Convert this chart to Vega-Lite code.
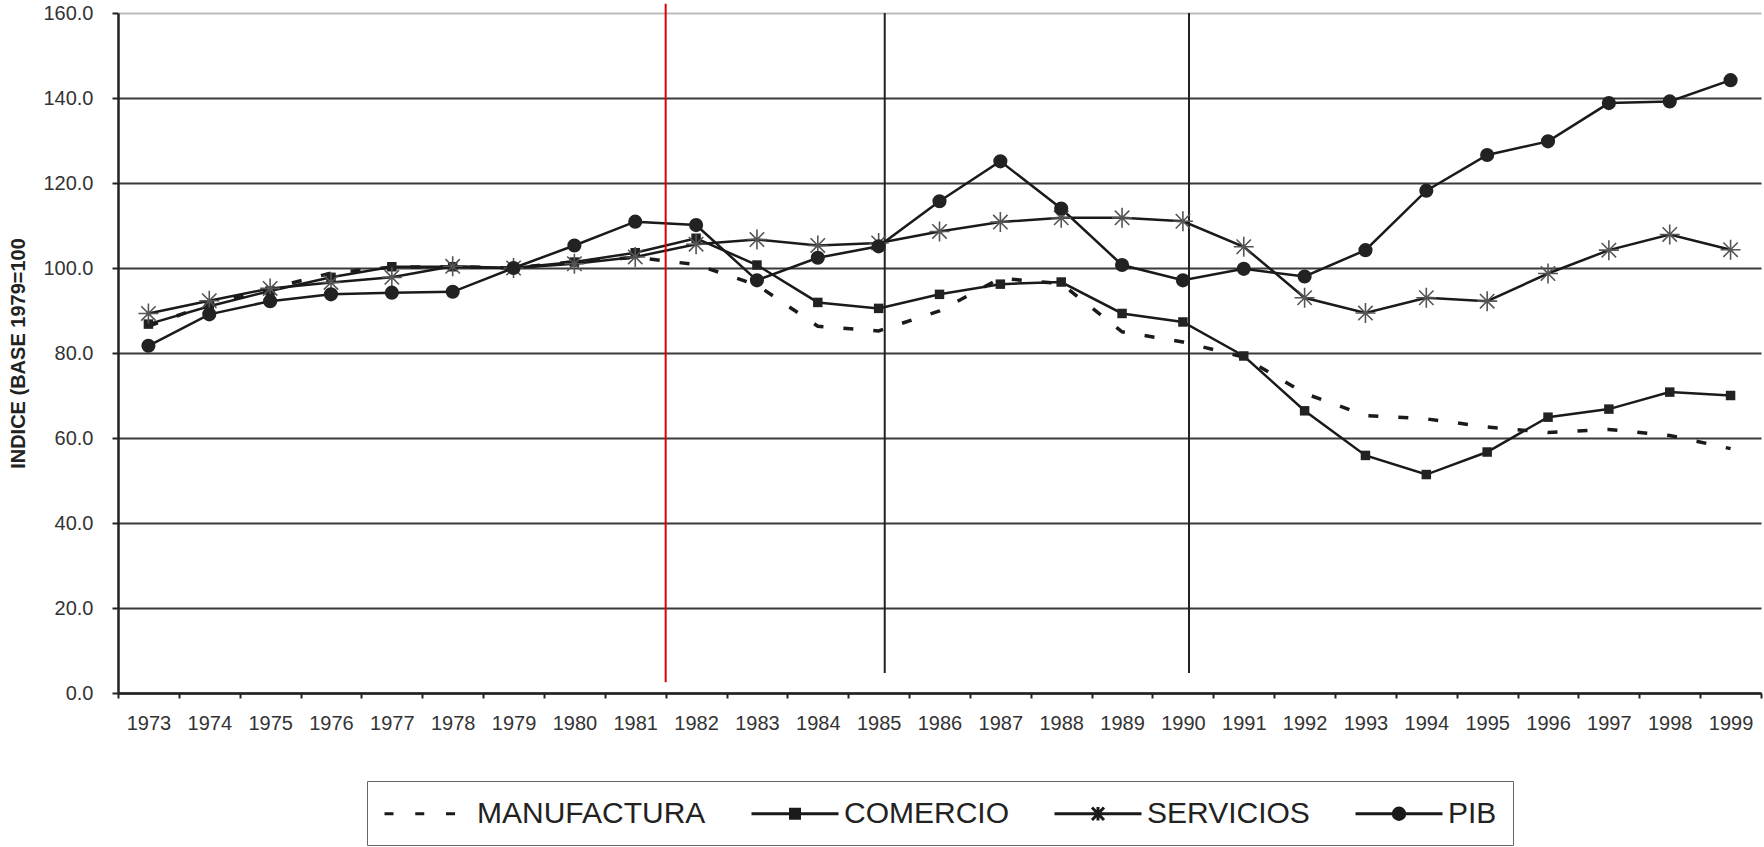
{
  "$schema": "https://vega.github.io/schema/vega-lite/v6.json",
  "width": 1764,
  "height": 847,
  "autosize": {"type": "fit", "contains": "padding"},
  "padding": {"left": 8, "top": 0, "right": 2, "bottom": 1},
  "background": "white",
  "config": {
    "view": {"stroke": null},
    "font": "Liberation Sans",
    "legend": {"layout": {"bottom": {"anchor": "middle"}}}
  },
  "datasets": {
    "idx": [
      {"year": 1973, "series": "MANUFACTURA", "value": 86.3},
      {"year": 1974, "series": "MANUFACTURA", "value": 91.5},
      {"year": 1975, "series": "MANUFACTURA", "value": 95.2},
      {"year": 1976, "series": "MANUFACTURA", "value": 98.8},
      {"year": 1977, "series": "MANUFACTURA", "value": 100.2},
      {"year": 1978, "series": "MANUFACTURA", "value": 100.3},
      {"year": 1979, "series": "MANUFACTURA", "value": 100.0},
      {"year": 1980, "series": "MANUFACTURA", "value": 101.5},
      {"year": 1981, "series": "MANUFACTURA", "value": 102.5},
      {"year": 1982, "series": "MANUFACTURA", "value": 100.8},
      {"year": 1983, "series": "MANUFACTURA", "value": 96.0},
      {"year": 1984, "series": "MANUFACTURA", "value": 86.3},
      {"year": 1985, "series": "MANUFACTURA", "value": 85.2},
      {"year": 1986, "series": "MANUFACTURA", "value": 89.9},
      {"year": 1987, "series": "MANUFACTURA", "value": 97.6},
      {"year": 1988, "series": "MANUFACTURA", "value": 96.3},
      {"year": 1989, "series": "MANUFACTURA", "value": 85.0},
      {"year": 1990, "series": "MANUFACTURA", "value": 82.6},
      {"year": 1991, "series": "MANUFACTURA", "value": 79.0},
      {"year": 1992, "series": "MANUFACTURA", "value": 70.5},
      {"year": 1993, "series": "MANUFACTURA", "value": 65.3},
      {"year": 1994, "series": "MANUFACTURA", "value": 64.5},
      {"year": 1995, "series": "MANUFACTURA", "value": 62.6},
      {"year": 1996, "series": "MANUFACTURA", "value": 61.3},
      {"year": 1997, "series": "MANUFACTURA", "value": 62.0},
      {"year": 1998, "series": "MANUFACTURA", "value": 60.6},
      {"year": 1999, "series": "MANUFACTURA", "value": 57.5},
      {"year": 1973, "series": "COMERCIO", "value": 86.8},
      {"year": 1974, "series": "COMERCIO", "value": 91.0},
      {"year": 1975, "series": "COMERCIO", "value": 94.6},
      {"year": 1976, "series": "COMERCIO", "value": 97.8},
      {"year": 1977, "series": "COMERCIO", "value": 100.3},
      {"year": 1978, "series": "COMERCIO", "value": 100.3},
      {"year": 1979, "series": "COMERCIO", "value": 100.0},
      {"year": 1980, "series": "COMERCIO", "value": 101.4},
      {"year": 1981, "series": "COMERCIO", "value": 103.6},
      {"year": 1982, "series": "COMERCIO", "value": 107.0},
      {"year": 1983, "series": "COMERCIO", "value": 100.7},
      {"year": 1984, "series": "COMERCIO", "value": 91.9},
      {"year": 1985, "series": "COMERCIO", "value": 90.5},
      {"year": 1986, "series": "COMERCIO", "value": 93.8},
      {"year": 1987, "series": "COMERCIO", "value": 96.2},
      {"year": 1988, "series": "COMERCIO", "value": 96.7},
      {"year": 1989, "series": "COMERCIO", "value": 89.3},
      {"year": 1990, "series": "COMERCIO", "value": 87.3},
      {"year": 1991, "series": "COMERCIO", "value": 79.3},
      {"year": 1992, "series": "COMERCIO", "value": 66.4},
      {"year": 1993, "series": "COMERCIO", "value": 55.9},
      {"year": 1994, "series": "COMERCIO", "value": 51.4},
      {"year": 1995, "series": "COMERCIO", "value": 56.7},
      {"year": 1996, "series": "COMERCIO", "value": 64.9},
      {"year": 1997, "series": "COMERCIO", "value": 66.8},
      {"year": 1998, "series": "COMERCIO", "value": 70.8},
      {"year": 1999, "series": "COMERCIO", "value": 70.0},
      {"year": 1973, "series": "SERVICIOS", "value": 89.3},
      {"year": 1974, "series": "SERVICIOS", "value": 92.3},
      {"year": 1975, "series": "SERVICIOS", "value": 95.2},
      {"year": 1976, "series": "SERVICIOS", "value": 96.6},
      {"year": 1977, "series": "SERVICIOS", "value": 97.8},
      {"year": 1978, "series": "SERVICIOS", "value": 100.4},
      {"year": 1979, "series": "SERVICIOS", "value": 100.0},
      {"year": 1980, "series": "SERVICIOS", "value": 101.0},
      {"year": 1981, "series": "SERVICIOS", "value": 102.6},
      {"year": 1982, "series": "SERVICIOS", "value": 105.6},
      {"year": 1983, "series": "SERVICIOS", "value": 106.7},
      {"year": 1984, "series": "SERVICIOS", "value": 105.3},
      {"year": 1985, "series": "SERVICIOS", "value": 105.9},
      {"year": 1986, "series": "SERVICIOS", "value": 108.6},
      {"year": 1987, "series": "SERVICIOS", "value": 110.8},
      {"year": 1988, "series": "SERVICIOS", "value": 111.8},
      {"year": 1989, "series": "SERVICIOS", "value": 111.8},
      {"year": 1990, "series": "SERVICIOS", "value": 111.0},
      {"year": 1991, "series": "SERVICIOS", "value": 105.0},
      {"year": 1992, "series": "SERVICIOS", "value": 93.0},
      {"year": 1993, "series": "SERVICIOS", "value": 89.4},
      {"year": 1994, "series": "SERVICIOS", "value": 93.0},
      {"year": 1995, "series": "SERVICIOS", "value": 92.2},
      {"year": 1996, "series": "SERVICIOS", "value": 98.7},
      {"year": 1997, "series": "SERVICIOS", "value": 104.2},
      {"year": 1998, "series": "SERVICIOS", "value": 107.9},
      {"year": 1999, "series": "SERVICIOS", "value": 104.3},
      {"year": 1973, "series": "PIB", "value": 81.7},
      {"year": 1974, "series": "PIB", "value": 89.1},
      {"year": 1975, "series": "PIB", "value": 92.2},
      {"year": 1976, "series": "PIB", "value": 93.8},
      {"year": 1977, "series": "PIB", "value": 94.2},
      {"year": 1978, "series": "PIB", "value": 94.4},
      {"year": 1979, "series": "PIB", "value": 100.0},
      {"year": 1980, "series": "PIB", "value": 105.3},
      {"year": 1981, "series": "PIB", "value": 110.9},
      {"year": 1982, "series": "PIB", "value": 110.1},
      {"year": 1983, "series": "PIB", "value": 97.1},
      {"year": 1984, "series": "PIB", "value": 102.4},
      {"year": 1985, "series": "PIB", "value": 105.1},
      {"year": 1986, "series": "PIB", "value": 115.7},
      {"year": 1987, "series": "PIB", "value": 125.1},
      {"year": 1988, "series": "PIB", "value": 114.0},
      {"year": 1989, "series": "PIB", "value": 100.7},
      {"year": 1990, "series": "PIB", "value": 97.1},
      {"year": 1991, "series": "PIB", "value": 99.8},
      {"year": 1992, "series": "PIB", "value": 98.0},
      {"year": 1993, "series": "PIB", "value": 104.2},
      {"year": 1994, "series": "PIB", "value": 118.2},
      {"year": 1995, "series": "PIB", "value": 126.6},
      {"year": 1996, "series": "PIB", "value": 129.8},
      {"year": 1997, "series": "PIB", "value": 138.8},
      {"year": 1998, "series": "PIB", "value": 139.2},
      {"year": 1999, "series": "PIB", "value": 144.2}
    ],
    "blackRules": [
      {"year": 1985, "top": 160, "bottom": 4.7},
      {"year": 1990, "top": 160, "bottom": 4.7}
    ],
    "redRule": [
      {"year": 1982, "top": 162.2, "bottom": 2.5}
    ]
  },
  "layer": [
    {
      "data": {"name": "blackRules"},
      "mark": {"type": "rule", "color": "#222222", "strokeWidth": 2},
      "encoding": {
        "x": {"field": "year", "type": "ordinal", "bandPosition": 0.6,
              "scale": {"type": "band", "paddingInner": 0, "paddingOuter": 0},
              "axis": {"title": null, "labelAngle": 0, "labelFontSize": 20, "labelColor": "#333333",
                       "labelPadding": 15, "tickBand": "extent", "tickSize": 5, "tickWidth": 2,
                       "tickColor": "#222222", "domainColor": "#222222", "domainWidth": 2.5, "grid": false}},
        "y": {"field": "top", "type": "quantitative",
              "scale": {"domain": [0, 160], "nice": false, "zero": true},
              "axis": {"values": [0, 20, 40, 60, 80, 100, 120, 140, 160], "format": ".1f",
                       "title": "INDICE (BASE 1979=100", "titleFontSize": 20, "titleFontWeight": "bold",
                       "titleColor": "#222222", "titlePadding": 14,
                       "labelFontSize": 20, "labelColor": "#333333", "labelPadding": 19,
                       "tickSize": 6, "tickWidth": 2, "tickColor": "#222222",
                       "domainColor": "#222222", "domainWidth": 2.5,
                       "grid": true, "gridWidth": 2,
                       "gridColor": {"condition": {"test": "datum.value === 160", "value": "#bbbbbb"}, "value": "#3a3a3a"}}},
        "y2": {"field": "bottom"}
      }
    },
    {
      "data": {"name": "idx"},
      "transform": [{"filter": "datum.series === 'MANUFACTURA'"}],
      "mark": {"type": "line", "color": "#1a1a1a", "strokeWidth": 3.5, "strokeDash": [10, 20]},
      "encoding": {
        "x": {"field": "year", "type": "ordinal", "bandPosition": 0.5},
        "y": {"field": "value", "type": "quantitative"}
      }
    },
    {
      "data": {"name": "idx"},
      "transform": [{"filter": "datum.series !== 'MANUFACTURA'"}],
      "mark": {"type": "line", "color": "#1a1a1a", "strokeWidth": 2.5},
      "encoding": {
        "x": {"field": "year", "type": "ordinal", "bandPosition": 0.5},
        "y": {"field": "value", "type": "quantitative"},
        "detail": {"field": "series"}
      }
    },
    {
      "data": {"name": "idx"},
      "transform": [{"filter": "datum.series === 'COMERCIO'"}],
      "mark": {"type": "point", "shape": "square", "filled": true, "size": 90, "color": "#222222", "opacity": 1},
      "encoding": {
        "x": {"field": "year", "type": "ordinal", "bandPosition": 0.5},
        "y": {"field": "value", "type": "quantitative"}
      }
    },
    {
      "data": {"name": "idx"},
      "transform": [{"filter": "datum.series === 'SERVICIOS'"}],
      "mark": {"type": "point", "shape": "M-1,0H1M0,-1V1M-0.72,-0.72L0.72,0.72M-0.72,0.72L0.72,-0.72",
               "filled": false, "size": 400, "color": "#555555", "strokeWidth": 1.6, "opacity": 1},
      "encoding": {
        "x": {"field": "year", "type": "ordinal", "bandPosition": 0.5},
        "y": {"field": "value", "type": "quantitative"}
      }
    },
    {
      "data": {"name": "idx"},
      "transform": [{"filter": "datum.series === 'PIB'"}],
      "mark": {"type": "point", "shape": "circle", "filled": true, "size": 200, "color": "#222222", "opacity": 1},
      "encoding": {
        "x": {"field": "year", "type": "ordinal", "bandPosition": 0.5},
        "y": {"field": "value", "type": "quantitative"}
      }
    },
    {
      "data": {"name": "idx"},
      "mark": {"type": "point", "filled": false, "color": "#1a1a1a", "strokeWidth": 3, "opacity": 0},
      "encoding": {
        "x": {"field": "year", "type": "ordinal", "bandPosition": 0.5},
        "y": {"field": "value", "type": "quantitative"},
        "shape": {
          "field": "series", "type": "nominal",
          "scale": {
            "domain": ["MANUFACTURA", "COMERCIO", "SERVICIOS", "PIB"],
            "range": [
              "M-1,0H-0.4M1.05,0H1.65M3.1,0H3.7",
              "M-1,0H4.8M1.6,-0.3H2.2V0.3H1.6ZM1.8,-0.1H2.0V0.1H1.8Z",
              "M-1,0H4.8M1.9,-0.45V0.45M1.5,-0.42L2.3,0.42M1.5,0.42L2.3,-0.42",
              "M-1,0H4.8M2.28,0A0.38,0.38 0 1,1 1.52,0A0.38,0.38 0 1,1 2.28,0M2.1,0A0.2,0.2 0 1,1 1.7,0A0.2,0.2 0 1,1 2.1,0M1.96,0A0.06,0.06 0 1,1 1.84,0A0.06,0.06 0 1,1 1.96,0"
            ]
          },
          "legend": {
            "title": null, "orient": "bottom", "direction": "horizontal", "offset": 48,
            "symbolSize": 900, "labelOffset": 61, "labelFontSize": 30, "labelColor": "#222222",
            "labelLimit": 400, "columnPadding": 39, "padding": 16,
            "strokeColor": "#666666", "fillColor": "#ffffff",
            "symbolStrokeWidth": 3, "symbolOpacity": 1,
            "encode": {
              "symbols": {
                "stroke": {"value": "#1a1a1a"},
                "strokeWidth": {"value": 3},
                "opacity": {"value": 1}
              }
            }
          }
        }
      }
    },
    {
      "data": {"name": "redRule"},
      "mark": {"type": "rule", "color": "#e00000", "strokeWidth": 2},
      "encoding": {
        "x": {"field": "year", "type": "ordinal", "bandPosition": 0},
        "y": {"field": "top", "type": "quantitative"},
        "y2": {"field": "bottom"}
      }
    }
  ]
}
